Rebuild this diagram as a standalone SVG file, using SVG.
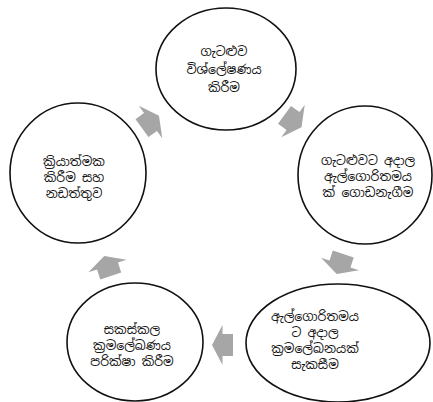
<svg xmlns="http://www.w3.org/2000/svg" width="433" height="402" viewBox="0 0 433 402">
<style>
.node ellipse{fill:#fff;stroke:#111;stroke-width:1.6}
.node text{font-family:"Noto Sans Sinhala","Iskoola Pota","Noto Sans","DejaVu Sans",sans-serif;font-size:12.5px;fill:#151515;text-anchor:middle}
.arr{fill:#a6a6a6}
</style>
<defs>
<path id="ar" d="M-10.5,-11 L0,-11 L0,-20 L10.5,0 L0,20 L0,11 L-10.5,11 Z"/>
</defs>
<rect width="433" height="402" fill="#fff"/>
<g id="connectors" class="arr">
<use href="#ar" transform="translate(293,121) rotate(36)"/>
<use href="#ar" transform="translate(340,264) rotate(108)"/>
<use href="#ar" transform="translate(222.5,345) rotate(180)"/>
<use href="#ar" transform="translate(107.5,266) rotate(252)"/>
<use href="#ar" transform="translate(150.5,122) rotate(324)"/>
</g>
<g id="n1" class="node">
<ellipse cx="226" cy="69" rx="70" ry="61"/>
<text x="224" y="56">ගැටළුව</text>
<text x="224" y="74">විශ්ලේෂණය</text>
<text x="224" y="92">කිරීම</text>
</g>
<g id="n2" class="node">
<ellipse cx="365" cy="175" rx="67" ry="69"/>
<text x="368" y="165">ගැටළුවට අදාල</text>
<text x="368" y="181">ඇල්ගොරිතමය</text>
<text x="368" y="197">ක් ගොඩනැගීම</text>
</g>
<g id="n3" class="node">
<ellipse cx="338" cy="343" rx="92" ry="59"/>
<text x="315" y="321">ඇල්ගොරිතමය</text>
<text x="315" y="337">ට අදාල</text>
<text x="315" y="353">ක්‍රමලේඛනයක්</text>
<text x="315" y="369">සැකසීම</text>
</g>
<g id="n4" class="node">
<ellipse cx="135" cy="342" rx="68" ry="59"/>
<text x="132" y="334">සකස්කල</text>
<text x="132" y="350">ක්‍රමලේඛණය</text>
<text x="132" y="366">පරික්ෂා කිරීම</text>
</g>
<g id="n5" class="node">
<ellipse cx="78" cy="173" rx="68" ry="70"/>
<text x="74" y="166">ක්‍රියාත්මක</text>
<text x="74" y="182">කිරීම සහ</text>
<text x="74" y="198">නඩත්තුව</text>
</g>
</svg>
